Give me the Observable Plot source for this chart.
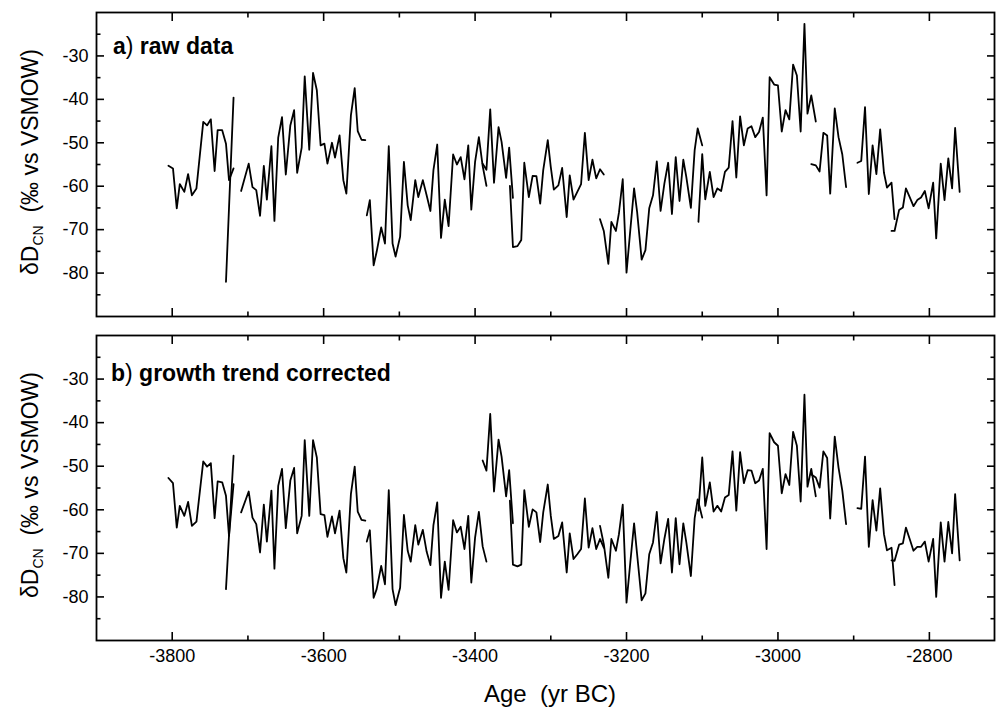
<!DOCTYPE html>
<html>
<head>
<meta charset="utf-8">
<script src="https://cdn.jsdelivr.net/npm/d3@7"></script>
<script src="https://cdn.jsdelivr.net/npm/@observablehq/plot@0.6"></script>
<style>
  body { margin: 0; background: #fff; }
  svg { display: block; }
</style>
</head>
<body>
<div id="chart"></div>
<script>
// ---- Data (age in yr BC as negative years, δD values in ‰) ----
const years1 = [-3805,-3799,-3794,-3790,-3784,-3779,-3774,-3768,-3759,-3754,-3749,-3744,-3740,-3734,-3729,-3725,-3719];
const raw1   = [-55.3,-55.9,-65.1,-59.5,-61.3,-57.2,-62.1,-60.5,-45.2,-46.0,-44.6,-56.5,-47.1,-47.1,-50.2,-58.6,-55.9];
const cor1   = [-52.7,-53.9,-64.1,-59.1,-61.4,-58.2,-63.7,-62.7,-48.9,-50.1,-49.3,-61.9,-53.5,-53.7,-56.8,-66.0,-54.1];

const years2 = [-3729,-3719];
const raw2   = [-82.0,-39.6];
const cor2   = [-78.2,-47.6];

const years3 = [-3709,-3699,-3694,-3689,-3684,-3679,-3675,-3669,-3665,-3660,-3655,-3650,-3644,-3639,-3635,-3629,-3625,-3619,-3614,-3609,-3604,-3599,-3595,-3589,-3585,-3579,-3574,-3570,-3564,-3559,-3555,-3550,-3545];
const raw3   = [-61.1,-54.8,-60.2,-60.9,-66.8,-55.3,-63.1,-50.8,-68.0,-48.8,-44.1,-57.3,-46.0,-42.5,-56.9,-51.1,-34.7,-51.6,-33.9,-37.9,-50.6,-50.2,-54.8,-50.0,-53.4,-48.3,-58.6,-61.7,-43.7,-37.4,-47.3,-49.3,-49.4];
const cor3   = [-60.6,-55.8,-61.8,-63.3,-69.8,-58.8,-67.3,-55.6,-73.5,-54.5,-50.6,-64.2,-53.3,-50.4,-65.4,-61.4,-44.0,-61.4,-44.0,-48.0,-61.0,-61.2,-66.2,-61.5,-65.4,-60.2,-71.1,-74.4,-56.4,-50.1,-60.4,-62.3,-62.5];

const years4 = [-3543,-3539,-3534,-3530,-3524,-3519,-3514,-3509,-3505,-3499,-3494,-3489,-3485,-3479,-3475,-3469,-3464,-3459,-3455,-3450,-3445,-3440,-3435,-3429,-3424,-3419,-3414,-3409,-3405,-3400,-3395,-3390,-3385];
const raw4   = [-66.7,-63.2,-78.2,-75.1,-69.5,-73.2,-50.8,-73.2,-76.2,-71.6,-54.4,-64.4,-67.8,-58.6,-62.5,-58.6,-62.1,-65.7,-56.3,-50.4,-71.9,-63.1,-69.2,-52.7,-55.0,-53.3,-58.4,-50.6,-65.4,-54.4,-48.7,-55.3,-59.9];
const cor4   = [-67.3,-64.7,-80.2,-78.2,-72.9,-77.1,-55.5,-78.2,-81.9,-77.9,-61.2,-69.4,-71.9,-63.5,-68.0,-64.6,-69.6,-72.7,-63.5,-58.3,-80.2,-71.9,-78.4,-62.4,-65.2,-63.9,-69.0,-61.4,-76.7,-66.4,-60.5,-68.4,-71.9];

const years5 = [-3390,-3385,-3380,-3375,-3369,-3365,-3359,-3355,-3350];
const raw5   = [-54.8,-56.2,-42.3,-59.2,-46.4,-49.8,-58.1,-51.1,-62.7];
const cor5   = [-48.7,-51.0,-38.0,-55.8,-43.9,-47.8,-56.9,-50.9,-63.1];

const years6 = [-3354,-3350,-3344,-3339,-3335,-3329,-3324,-3319,-3314,-3310,-3304,-3300,-3296,-3290,-3285,-3279,-3275,-3270,-3265,-3260,-3255,-3250,-3245,-3240,-3235,-3230];
const raw6   = [-59.9,-74.0,-73.8,-72.4,-54.6,-62.5,-57.6,-57.7,-64.0,-56.3,-49.4,-55.6,-60.8,-59.8,-55.8,-67.1,-57.5,-63.1,-61.3,-59.5,-47.7,-58.6,-53.9,-58.2,-56.1,-57.3];
const cor6   = [-57.9,-72.6,-73.0,-72.6,-55.5,-63.9,-59.9,-60.6,-67.4,-60.6,-54.2,-61.4,-66.7,-66.0,-62.9,-74.4,-65.4,-71.3,-70.2,-69.0,-57.4,-68.7,-64.2,-69.0,-66.7,-68.7];

const years7 = [-3235,-3230,-3224,-3220,-3214,-3210,-3205,-3200,-3195,-3190,-3186,-3180,-3175,-3170,-3165,-3160,-3155,-3150,-3145,-3140,-3135,-3130,-3125,-3121,-3115,-3110,-3106,-3100];
const raw7   = [-67.6,-70.3,-77.9,-68.2,-70.3,-66.1,-58.4,-79.9,-70.1,-60.5,-65.9,-76.9,-74.7,-65.1,-62.1,-54.3,-65.7,-59.4,-54.6,-66.4,-53.3,-63.4,-53.9,-57.9,-65.0,-51.7,-46.7,-50.6];
const cor7   = [-63.7,-67.9,-75.6,-66.7,-69.4,-65.6,-58.8,-81.3,-72.1,-63.1,-70.2,-80.8,-79.2,-70.2,-67.5,-60.5,-72.3,-66.7,-62.1,-74.4,-61.9,-72.5,-63.1,-67.5,-75.2,-61.9,-57.6,-61.8];

const years8 = [-3105,-3100,-3096,-3090,-3085,-3080,-3075,-3070,-3065,-3060,-3055,-3050,-3045,-3040,-3035,-3030,-3025,-3020,-3015,-3011,-3005,-3000,-2995,-2990,-2985,-2980,-2975,-2970,-2965,-2961,-2956,-2950];
const raw8   = [-68.2,-52.6,-63.0,-56.7,-62.5,-60.5,-61.1,-56.7,-55.7,-45.0,-58.0,-43.9,-50.6,-46.7,-46.2,-48.7,-47.5,-44.2,-62.1,-34.9,-36.6,-36.8,-47.4,-42.5,-44.6,-32.0,-34.5,-47.4,-22.6,-43.3,-39.1,-45.1];
const cor8   = [-60.2,-48.0,-59.1,-53.7,-60.4,-59.1,-60.4,-57.2,-56.6,-46.6,-60.2,-46.8,-53.9,-50.9,-51.0,-53.9,-53.3,-50.6,-69.0,-42.4,-44.5,-45.3,-56.2,-51.8,-54.3,-42.1,-45.3,-58.1,-33.6,-54.7,-50.6,-56.9];

const years9 = [-2956,-2950,-2945,-2940,-2935,-2931,-2925,-2920,-2915,-2910];
const raw9   = [-54.9,-55.2,-56.6,-47.7,-48.3,-61.7,-42.1,-48.7,-52.7,-60.2];
const cor9   = [-51.9,-52.6,-54.9,-46.6,-48.1,-62.0,-43.2,-50.3,-55.6,-63.3];

const years10 = [-2895,-2890,-2885,-2880,-2875,-2870,-2865,-2860,-2856,-2850,-2846];
const raw10   = [-54.6,-54.2,-41.8,-61.8,-50.6,-57.2,-46.9,-56.9,-60.3,-59.2,-67.6];
const cor10   = [-59.6,-59.8,-47.8,-68.5,-57.8,-64.8,-55.1,-65.6,-69.3,-68.7,-77.3];

const years11 = [-2850,-2846,-2840,-2835,-2831,-2826,-2821,-2816,-2811,-2806,-2801,-2795,-2791,-2785,-2780,-2775,-2770,-2766,-2760];
const raw11   = [-70.3,-70.3,-65.5,-64.9,-60.5,-62.5,-64.6,-63.2,-62.6,-61.1,-65.1,-59.2,-72.0,-54.8,-63.2,-53.6,-60.5,-46.6,-61.3];
const cor11   = [-71.6,-71.7,-68.0,-67.7,-64.1,-66.7,-69.4,-68.5,-68.5,-67.3,-71.9,-66.7,-80.0,-62.9,-71.9,-62.8,-70.0,-56.4,-71.6];

// ticks
const xMajor = [-3800,-3600,-3400,-3200,-3000,-2800];
const xMinor = [-3700,-3500,-3300,-3100,-2900];
const yMajor = [-80,-70,-60,-50,-40,-30];
const yMinor = [-85,-75,-65,-55,-45,-35,-25];

// ---- Build tables ----
const segs = [
  [years1, raw1, cor1], [years2, raw2, cor2], [years3, raw3, cor3], [years4, raw4, cor4],
  [years5, raw5, cor5], [years6, raw6, cor6], [years7, raw7, cor7], [years8, raw8, cor8],
  [years9, raw9, cor9], [years10, raw10, cor10], [years11, raw11, cor11]
];
function table(k) {
  const out = [];
  segs.forEach((s, i) => s[0].forEach((yr, j) => out.push({year: yr, value: s[k][j], seg: i})));
  return out;
}
const rawRows = table(1);
const corRows = table(2);

const FONT = "'Liberation Sans', Arial, Helvetica, sans-serif";
const W = 996, ML = 96, MR = 2;

function panel(rows, {height, marginTop, marginBottom, showX}) {
  const blank = () => "";
  return Plot.plot({
    width: W, height, marginLeft: ML, marginRight: MR, marginTop, marginBottom,
    style: {fontFamily: FONT, fontSize: "18px", color: "black", background: "white", overflow: "visible"},
    x: {domain: [-3900, -2714], axis: null, label: null},
    y: {domain: [-90, -20], axis: null, label: null},
    marks: [
      Plot.axisY(yMajor, {anchor: "left", tickSize: -8, tickPadding: 16, tickFormat: d => String(d), label: null, fontSize: 18, strokeWidth: 1.6}),
      Plot.axisY(yMinor, {anchor: "left", tickSize: -4.5, tickFormat: blank, label: null, strokeWidth: 1.6}),
      Plot.axisY(yMajor, {anchor: "right", tickSize: -8, tickFormat: blank, label: null, strokeWidth: 1.6}),
      Plot.axisY(yMinor, {anchor: "right", tickSize: -4.5, tickFormat: blank, label: null, strokeWidth: 1.6}),
      Plot.axisX(xMajor, {anchor: "bottom", tickSize: -8, tickPadding: 17, tickFormat: showX ? (d => String(d)) : blank, label: null, fontSize: 18, strokeWidth: 1.6}),
      Plot.axisX(xMinor, {anchor: "bottom", tickSize: -4.5, tickFormat: blank, label: null, strokeWidth: 1.6}),
      Plot.axisX(xMajor, {anchor: "top", tickSize: -8, tickFormat: blank, label: null, strokeWidth: 1.6}),
      Plot.axisX(xMinor, {anchor: "top", tickSize: -4.5, tickFormat: blank, label: null, strokeWidth: 1.6}),
      Plot.line(rows, {x: "year", y: "value", z: "seg", stroke: "black", strokeWidth: 1.8, curve: "linear"}),
      Plot.frame({stroke: "black", strokeWidth: 1.8})
    ]
  });
}

function addYTitle(svg, cy) {
  const t = d3.select(svg).append("text")
    .attr("transform", `translate(38,${cy}) rotate(-90)`)
    .attr("text-anchor", "middle")
    .attr("font-family", FONT)
    .attr("font-size", 23)
    .attr("fill", "black");
  t.append("tspan").text("δD");
  t.append("tspan").attr("font-size", 14).attr("dy", 5).text("CN");
  t.append("tspan").attr("dy", -5).text("\u00A0\u00A0(‰ vs VSMOW)");
}
function addPanelLabel(svg, x, y, letter, rest) {
  const t = d3.select(svg).append("text")
    .attr("x", x).attr("y", y)
    .attr("text-anchor", "start")
    .attr("font-family", FONT).attr("font-size", 23).attr("fill", "black");
  t.append("tspan").attr("font-weight", "bold").text(letter);
  t.append("tspan").attr("font-weight", "normal").text(")");
  t.append("tspan").attr("font-weight", "bold").text(" " + rest);
}

const svgA = panel(rawRows, {height: 330, marginTop: 12, marginBottom: 14, showX: false});
const svgB = panel(corRows, {height: 383, marginTop: 5, marginBottom: 73, showX: true});

addYTitle(svgA, 162);
addYTitle(svgB, 155);
addPanelLabel(svgA, 113, 54, "a", "raw data");
addPanelLabel(svgB, 111, 51, "b", "growth trend corrected");

d3.select(svgB).append("text")
  .attr("x", (ML + (W - MR)) / 2 + 5).attr("y", 372)
  .attr("text-anchor", "middle")
  .attr("font-family", FONT).attr("font-size", 24).attr("fill", "black")
  .text("Age\u00A0\u00A0(yr BC)");

const root = document.getElementById("chart");
root.appendChild(svgA);
root.appendChild(svgB);
</script>
</body>
</html>
